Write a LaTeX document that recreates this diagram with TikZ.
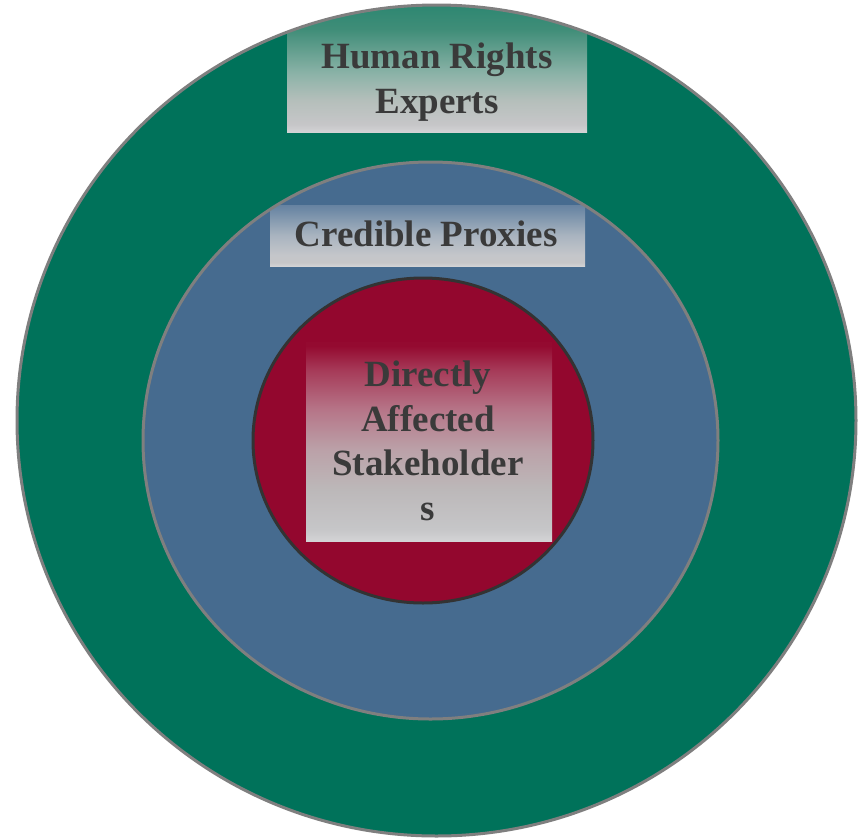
\documentclass[tikz,border=0pt]{standalone}
\usepackage{fontspec}
\setmainfont{Liberation Serif}

\definecolor{ringgreen}{HTML}{00725A}
\definecolor{ringblue}{HTML}{466B8F}
\definecolor{ringred}{HTML}{93072E}
\definecolor{ringline}{HTML}{7F7F7F}
\definecolor{coreline}{HTML}{333333}
\definecolor{labeltext}{HTML}{3A3A3A}
\definecolor{fadelow}{HTML}{D3D3D5}
\definecolor{fadegray}{HTML}{C6C6C8}
% fade stops
\definecolor{greenA}{HTML}{B5BFBB}
\definecolor{greenB}{HTML}{8CB3A8}
\definecolor{greenC}{HTML}{3F8D78}
\definecolor{greenD}{HTML}{2A8670}
\definecolor{blueA}{HTML}{C4C6CA}
\definecolor{blueB}{HTML}{A9B4C0}
\definecolor{blueC}{HTML}{6F8AA6}
\definecolor{blueD}{HTML}{6683A1}
\definecolor{redA}{HTML}{BCB8B9}
\definecolor{redB}{HTML}{BBA1A8}
\definecolor{redC}{HTML}{B67588}
\definecolor{redD}{HTML}{A63A58}
\definecolor{redE}{HTML}{940A30}

% box fades, bottom (25bp) to top (75bp)
\pgfdeclareverticalshading{greenfade}{100bp}{color(0bp)=(fadelow); color(25bp)=(fadelow);
  color(28bp)=(fadegray); color(37bp)=(greenA); color(47bp)=(greenB);
  color(64bp)=(greenC); color(75bp)=(greenD); color(100bp)=(greenD)}
\pgfdeclareverticalshading{bluefade}{100bp}{color(0bp)=(fadelow); color(25bp)=(fadelow);
  color(28bp)=(fadegray); color(34bp)=(blueA); color(50bp)=(blueB);
  color(71bp)=(blueC); color(75bp)=(blueD); color(100bp)=(blueD)}
\pgfdeclareverticalshading{redfade}{100bp}{color(0bp)=(fadelow); color(25bp)=(fadelow);
  color(28bp)=(fadegray); color(38bp)=(redA); color(48bp)=(redB);
  color(58bp)=(redC); color(68bp)=(redD); color(74bp)=(redE); color(100bp)=(redE)}

\begin{document}
\begin{tikzpicture}[x=1pt,y=-1pt,
  ring/.style={line width=3pt,draw=ringline},
  core/.style={line width=3pt,draw=coreline},
  label/.style={font=\bfseries\fontsize{37}{44.5}\selectfont,text=labeltext,align=center,inner sep=0pt}]
  \def\Xo{436.5} \def\Yo{420.5} \def\Ro{419.5} \def\So{415.5}
  \def\Xm{430.5} \def\Ym{440.5} \def\Rm{287.5} \def\Sm{278.5}
  \def\Xi{423}   \def\Yi{440.5} \def\Ri{170}   \def\Si{162.5}

  \useasboundingbox (0,0) rectangle (863,839);

	% outer ring
	\fill[ringgreen] (\Xo,\Yo) ellipse [x radius=\Ro, y radius=\So];
	\begin{scope}
	  \clip (\Xo,\Yo) ellipse [x radius=\Ro, y radius=\So];
	  \shade[shading=greenfade] (287,0) rectangle (587,132);
	\end{scope}
	\draw[ring] (\Xo,\Yo) ellipse [x radius=\Ro, y radius=\So];

	% middle ring
	\fill[ringblue] (\Xm,\Ym) ellipse [x radius=\Rm, y radius=\Sm];
	\begin{scope}
	  \clip (\Xm,\Ym) ellipse [x radius=\Rm, y radius=\Sm];
	  \shade[shading=bluefade] (270,205) rectangle (585,266);
	\end{scope}
	\draw[ring] (\Xm,\Ym) ellipse [x radius=\Rm, y radius=\Sm];

	% inner ring
	\filldraw[core,fill=ringred] (\Xi,\Yi) ellipse [x radius=\Ri, y radius=\Si];
	\shade[shading=redfade] (306,342) rectangle (552,541);

	% labels (base = last line)
	\node[label,anchor=base] (experts) at (437,113) {Human Rights\\Experts};
	\node[label,anchor=base] (proxies) at (426,246) {Credible Proxies};
	\node[label,anchor=base] (affected) at (428,520) {Directly\\Affected\\Stakeholder\\s};

\end{tikzpicture}
\end{document}
